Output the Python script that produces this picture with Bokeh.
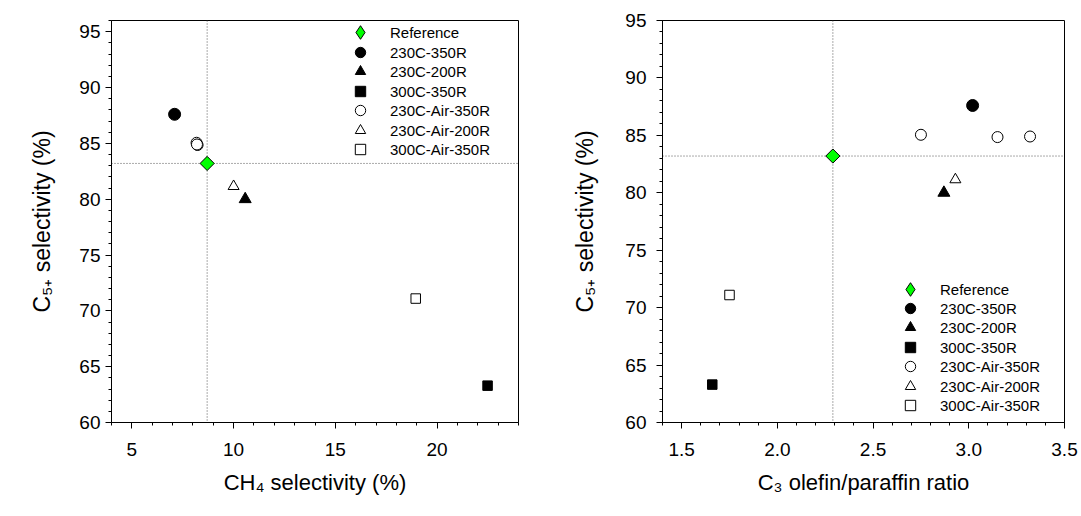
import numpy as np
from bokeh.plotting import figure
from bokeh.layouts import row
from bokeh.models import (ColumnDataSource, Span, Legend, LegendItem, FixedTicker,
                          Label, NumeralTickFormatter, Range1d)
from bokeh.embed import file_html
from bokeh.resources import INLINE

# ---------------- data ----------------
series_names = ["Reference", "230C-350R", "230C-200R", "300C-350R",
                "230C-Air-350R", "230C-Air-200R", "300C-Air-350R"]

# C5+ selectivity (%) -- shared by both panels
c5_reference = [83.2]
c5_230c_350r = [87.6]
c5_230c_200r = [80.0]
c5_300c_350r = [63.3]
c5_230c_air_350r = [85.05, 84.85, 84.9]
c5_230c_air_200r = [81.15]
c5_300c_air_350r = [71.1]

# panel a: CH4 selectivity (%)
ch4_reference = [8.7]
ch4_230c_350r = [7.1]
ch4_230c_200r = [10.57]
ch4_300c_350r = [22.48]
ch4_230c_air_350r = [8.18, 8.23, 8.2]
ch4_230c_air_200r = [10.0]
ch4_300c_air_350r = [18.95]

# panel b: C3 olefin/paraffin ratio
op_reference = [2.29]
op_230c_350r = [3.02]
op_230c_200r = [2.87]
op_300c_350r = [1.66]
op_230c_air_350r = [2.75, 3.15, 3.32]
op_230c_air_200r = [2.93]
op_300c_air_350r = [1.75]

c5_all = [c5_reference, c5_230c_350r, c5_230c_200r, c5_300c_350r,
          c5_230c_air_350r, c5_230c_air_200r, c5_300c_air_350r]
ch4_all = [ch4_reference, ch4_230c_350r, ch4_230c_200r, ch4_300c_350r,
           ch4_230c_air_350r, ch4_230c_air_200r, ch4_300c_air_350r]
op_all = [op_reference, op_230c_350r, op_230c_200r, op_300c_350r,
          op_230c_air_350r, op_230c_air_200r, op_300c_air_350r]

# ticks
a_x_ticks = [5, 10, 15, 20]
a_x_minor = list(range(4, 25))
a_y_ticks = [60, 65, 70, 75, 80, 85, 90, 95]
a_y_minor = list(range(60, 97))
b_x_ticks = [1.5, 2.0, 2.5, 3.0, 3.5]
b_x_minor = [round(1.4 + 0.1 * i, 2) for i in range(22)]
b_y_ticks = [60, 65, 70, 75, 80, 85, 90, 95]
b_y_minor = list(range(60, 96))

# ---------------- styles ----------------
FONT = "Liberation Sans"
styles = [
    dict(marker="square", angle=np.pi / 4, size=10, fill_color="#00ff00", line_color="black"),
    dict(marker="circle", angle=0, size=12, fill_color="black", line_color="black"),
    dict(marker="triangle", angle=0, size=12, fill_color="black", line_color="black"),
    dict(marker="square", angle=0, size=9.5, fill_color="black", line_color="black"),
    dict(marker="circle", angle=0, size=11, fill_color="white", line_color="black"),
    dict(marker="triangle", angle=0, size=11, fill_color="white", line_color="black"),
    dict(marker="square", angle=0, size=9.5, fill_color="white", line_color="black"),
]


def legend(items, loc, gw, standoff, spacing):
    return Legend(items=items, location=loc, padding=0, margin=0,
                  border_line_alpha=0, background_fill_alpha=0,
                  glyph_width=gw, glyph_height=gw, label_height=19, spacing=spacing,
                  label_standoff=standoff, label_text_font_size="15px",
                  label_text_font=FONT, label_text_color="black")


def make_panel(xs_all, x_range, y_range, x_ticks, x_minor, y_ticks, y_minor,
               x_label, y_label, borders, leg_x, leg_ys, letter, letter_x,
               ytick_standoff, ylabel_standoff, x_fmt=None, width=540):
    p = figure(width=width, height=516, x_range=Range1d(*x_range), y_range=Range1d(*y_range),
               output_backend="svg", toolbar_location=None,
               min_border_left=borders[0], min_border_right=borders[1],
               min_border_top=borders[2], min_border_bottom=borders[3])
    p.xgrid.visible = False
    p.ygrid.visible = False
    p.outline_line_color = "black"
    p.outline_line_width = 1
    p.background_fill_color = "white"
    p.border_fill_color = "white"

    # reference cross lines
    p.add_layout(Span(location=xs_all[0][0], dimension="height", line_color="#555555",
                      line_dash="1 2", line_width=1, level="underlay"))
    p.add_layout(Span(location=c5_all[0][0], dimension="width", line_color="#555555",
                      line_dash="1 2", line_width=1, level="underlay"))

    # diamond for the legend entry of the reference (hidden under the rotated square)
    ref_src = ColumnDataSource(dict(x=xs_all[0], y=c5_all[0]))
    r_ref_leg = p.scatter("x", "y", source=ref_src, marker="diamond", size=9,
                          fill_color="#00ff00", line_color="black", line_width=1)

    rends = []
    for name, xs, ys, st in zip(series_names, xs_all, c5_all, styles):
        src = ColumnDataSource(dict(x=xs, y=ys))
        r = p.scatter("x", "y", source=src, marker=st["marker"], angle=st["angle"],
                      size=st["size"], fill_color=st["fill_color"],
                      line_color=st["line_color"], line_width=1)
        rends.append(r)

    items = [LegendItem(label=n, renderers=[r]) for n, r in zip(series_names, rends)]
    items[0] = LegendItem(label=series_names[0], renderers=[r_ref_leg])
    # three interleaved legends give a 19.5 px row pitch with full-size symbols
    p.add_layout(legend([items[0]], (leg_x - 4, leg_ys[0]), 34, 13, 0), "center")
    p.add_layout(legend([items[1], items[3], items[5]], (leg_x, leg_ys[1]), 26, 17, 13), "center")
    p.add_layout(legend([items[2], items[4], items[6]], (leg_x, leg_ys[2]), 26, 17, 13), "center")

    for ax in (p.xaxis[0], p.yaxis[0]):
        ax.axis_line_color = "black"
        ax.major_tick_line_color = "black"
        ax.minor_tick_line_color = "black"
        ax.major_tick_out = 6
        ax.major_tick_in = 0
        ax.minor_tick_out = 3
        ax.minor_tick_in = 0
        ax.major_label_text_font = FONT
        ax.major_label_text_font_size = "19px"
        ax.major_label_text_color = "black"
        ax.axis_label_text_font = FONT
        ax.axis_label_text_font_style = "normal"
        ax.axis_label_text_color = "black"
    p.xaxis[0].axis_label_text_font_size = "22px"
    p.yaxis[0].axis_label_text_font_size = "23px"

    p.xaxis[0].ticker = FixedTicker(ticks=x_ticks, minor_ticks=x_minor)
    p.yaxis[0].ticker = FixedTicker(ticks=y_ticks, minor_ticks=y_minor)
    if x_fmt:
        p.xaxis[0].formatter = NumeralTickFormatter(format=x_fmt)
    p.xaxis[0].axis_label = x_label
    p.yaxis[0].axis_label = y_label
    p.xaxis[0].major_label_standoff = 14
    p.yaxis[0].major_label_standoff = ytick_standoff
    p.xaxis[0].axis_label_standoff = 11
    p.yaxis[0].axis_label_standoff = ylabel_standoff

    p.add_layout(Label(x=letter_x, y=-92, x_units="screen", y_units="screen", text=letter,
                       text_font=FONT, text_font_size="25px", text_color="black"))
    return p


p1 = make_panel(ch4_all, (4, 24), (60, 96), a_x_ticks, a_x_minor, a_y_ticks, a_y_minor,
                "CH\u2084 selectivity (%)", "C\u2085\u208a selectivity (%)",
                (111, 22, 15, 94), 236, (373, 279, 260), "a", -103, 5, 21, width=540)
p2 = make_panel(op_all, (1.4, 3.5), (60, 95), b_x_ticks, b_x_minor, b_y_ticks, b_y_minor,
                "C\u2083 olefin/paraffin ratio", "C\u2085\u208a selectivity (%)",
                (122, 17, 20, 94), 235, (116, 23, 4), "b", -107, 10, 24,
                x_fmt="0.0", width=541)

layout = row(p1, p2, spacing=0)
open("out.html", "w").write(file_html(layout, INLINE))
